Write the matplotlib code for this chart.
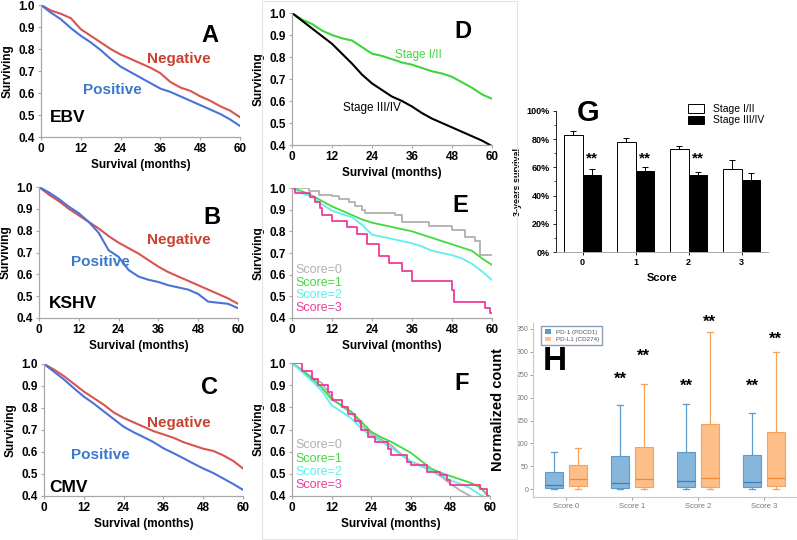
import numpy as np
import matplotlib
matplotlib.use("Agg")
import matplotlib.pyplot as plt
from matplotlib.patches import Patch
from matplotlib.ticker import FuncFormatter, MultipleLocator

plt.rcParams["font.family"] = ["Liberation Sans", "DejaVu Sans"]

W, H = 797, 540

# ---- survival data (every 3 months) ----
MONTHS = np.arange(0, 61, 3)

A_neg = [1.0, 0.975, 0.96, 0.94, 0.89, 0.86, 0.83, 0.80, 0.775, 0.755, 0.735,
         0.715, 0.69, 0.65, 0.625, 0.61, 0.585, 0.565, 0.54, 0.52, 0.49]
A_pos = [1.0, 0.965, 0.935, 0.895, 0.86, 0.83, 0.795, 0.755, 0.72, 0.695, 0.67,
         0.645, 0.62, 0.605, 0.585, 0.565, 0.545, 0.525, 0.505, 0.48, 0.45]

B_neg = [1.0, 0.965, 0.935, 0.90, 0.87, 0.84, 0.81, 0.775, 0.745, 0.72, 0.695,
         0.665, 0.635, 0.61, 0.59, 0.57, 0.55, 0.53, 0.51, 0.49, 0.465]
B_pos = [1.0, 0.975, 0.945, 0.91, 0.88, 0.84, 0.79, 0.71, 0.68, 0.62, 0.59,
         0.575, 0.565, 0.55, 0.54, 0.53, 0.51, 0.475, 0.47, 0.465, 0.445]

C_neg = [1.0, 0.975, 0.945, 0.91, 0.875, 0.845, 0.815, 0.78, 0.755, 0.735, 0.715,
         0.695, 0.68, 0.665, 0.645, 0.63, 0.615, 0.605, 0.585, 0.56, 0.525]
C_pos = [1.0, 0.965, 0.93, 0.89, 0.852, 0.82, 0.785, 0.75, 0.715, 0.69, 0.668,
         0.645, 0.617, 0.595, 0.572, 0.548, 0.525, 0.505, 0.48, 0.455, 0.428]

D_early = [1.0, 0.97, 0.95, 0.92, 0.90, 0.885, 0.875, 0.845, 0.815, 0.805, 0.79,
           0.775, 0.765, 0.75, 0.735, 0.725, 0.71, 0.685, 0.66, 0.63, 0.61]
D_late = [1.0, 0.965, 0.93, 0.895, 0.86, 0.815, 0.77, 0.72, 0.68, 0.65, 0.62,
          0.60, 0.575, 0.545, 0.52, 0.50, 0.48, 0.46, 0.44, 0.42, 0.395]

# E: score-stratified, stage I/II
E_s1 = [1.0, 0.985, 0.965, 0.94, 0.915, 0.895, 0.875, 0.855, 0.84, 0.83, 0.82,
        0.81, 0.80, 0.785, 0.77, 0.755, 0.74, 0.725, 0.71, 0.675, 0.645]
E_s2 = [1.0, 0.975, 0.96, 0.925, 0.895, 0.88, 0.865, 0.83, 0.785, 0.775, 0.765,
        0.755, 0.745, 0.73, 0.71, 0.70, 0.69, 0.675, 0.65, 0.615, 0.575]
E_s0_t = [0, 5, 8, 12, 14, 17, 19, 21, 22, 31, 33, 41, 48, 52, 55, 56.5, 60]
E_s0 = [1.0, 0.985, 0.97, 0.965, 0.95, 0.935, 0.915, 0.90, 0.885, 0.875, 0.845,
        0.825, 0.805, 0.775, 0.755, 0.69, 0.69]
E_s3_t = [0, 1, 5.5, 7, 8.5, 9, 12, 16.5, 19.5, 22.5, 26, 29, 33, 36, 48, 48.5, 58, 59.5, 60]
E_s3 = [1.0, 0.975, 0.96, 0.935, 0.91, 0.875, 0.85, 0.82, 0.79, 0.74, 0.685,
        0.655, 0.615, 0.57, 0.53, 0.475, 0.445, 0.425, 0.425]

# F: score-stratified, stage III/IV
F_s0 = [1.0, 0.97, 0.935, 0.91, 0.845, 0.805, 0.775, 0.72, 0.68, 0.655, 0.63,
        0.59, 0.555, 0.54, 0.515, 0.49, 0.455, 0.425, 0.40, 0.38, 0.36]
F_s1 = [1.0, 0.965, 0.93, 0.89, 0.835, 0.81, 0.78, 0.735, 0.69, 0.665, 0.645,
        0.62, 0.595, 0.56, 0.525, 0.505, 0.49, 0.475, 0.46, 0.44, 0.39]
F_s2 = [1.0, 0.96, 0.92, 0.875, 0.81, 0.78, 0.75, 0.705, 0.67, 0.645, 0.62,
        0.585, 0.555, 0.535, 0.515, 0.495, 0.47, 0.455, 0.435, 0.405, 0.38]
F_s3_t = [0, 3, 6, 8, 11, 12, 15, 17, 19, 21, 23, 25, 29, 30, 35, 36, 41, 45, 47, 48, 56, 57, 59, 60]
F_s3 = [1.0, 0.965, 0.93, 0.90, 0.87, 0.835, 0.80, 0.77, 0.74, 0.70, 0.665, 0.645,
        0.61, 0.585, 0.555, 0.54, 0.51, 0.495, 0.47, 0.45, 0.45, 0.43, 0.40, 0.38]

# G: 3-year survival by score
G_scores = ["0", "1", "2", "3"]
G_early = [83.3, 78.1, 72.7, 58.6]
G_early_err = [2.8, 2.4, 2.8, 6.3]
G_late = [54.8, 57.6, 54.4, 51.3]
G_late_err = [4.0, 2.4, 2.3, 4.5]
G_sig = ["**", "**", "**", ""]

# H: PD-1 / PD-L1 normalized counts (box stats)
H_groups = ["Score 0", "Score 1", "Score 2", "Score 3"]
PD1_stats = [(0, 2, 9, 38, 82), (0, 3, 13, 73, 184), (0, 4, 18, 82, 187), (0, 4, 15, 74, 167)]
PDL1_stats = [(0, 6, 22, 52, 90), (0, 4, 22, 93, 229), (0, 4, 24, 142, 344), (0, 6, 24, 125, 299)]
PD1_sig = [None, 240, 225, 225]
PDL1_sig = [None, 291, 365, 328]

RED_LINE, RED_TXT = "#D9534F", "#C8432F"
BLUE_LINE, BLUE_TXT = "#4A72D8", "#3A78CC"
GREEN = "#3FD43F"
GRAY, S1, S2, S3 = "#B0B0B0", "#3EDB3E", "#5EEEEE", "#EE3D9A"


def rect(x0, y0, x1, y1):
    return [x0 / W, 1 - y1 / H, (x1 - x0) / W, (y1 - y0) / H]


def ftext(x, y, s, **kw):
    fig.text(x / W, 1 - y / H, s, ha="center", va="center", **kw)


def km_axes(r):
    ax = fig.add_axes(r)
    ax.set_xlim(0, 60)
    ax.set_ylim(0.4, 1.0)
    ax.set_xticks([0, 12, 24, 36, 48, 60])
    ax.set_yticks(np.round(np.arange(0.4, 1.01, 0.1), 1))
    ax.yaxis.set_major_formatter(FuncFormatter(lambda v, p: f"{v:.1f}"))
    for s in ["top", "right"]:
        ax.spines[s].set_visible(False)
    for s in ["left", "bottom"]:
        ax.spines[s].set_color("#A8A8A8")
        ax.spines[s].set_linewidth(0.9)
    ax.tick_params(labelsize=8.5, length=2.5, width=0.8, color="#A8A8A8", pad=2)
    for lb in ax.get_xticklabels() + ax.get_yticklabels():
        lb.set_fontweight("bold")
    ax.set_xlabel("Survival (months)", fontsize=8.5, fontweight="bold", labelpad=3)
    ax.set_ylabel("Surviving", fontsize=8.5, fontweight="bold", labelpad=3)
    return ax


fig = plt.figure(figsize=(W / 100, H / 100), dpi=100)

# faint frame around the middle column
fig.patches.append(plt.Rectangle((262 / W, 0.002), 255 / W, 0.996, transform=fig.transFigure,
                                 fill=False, edgecolor="#E4E4E4", lw=0.8))

# ---- A, B, C ----
panels = [
    (rect(41, 5, 240, 137), A_neg, A_pos, "A", (210, 35), (179, 59), (112, 90), "EBV", (68, 118)),
    (rect(39, 187, 238, 318), B_neg, B_pos, "B", (212, 218), (179, 240), (100, 262), "KSHV", (73, 303)),
    (rect(44, 364, 243, 496), C_neg, C_pos, "C", (210, 387), (179, 423), (100, 455), "CMV", (68, 487)),
]
for r, neg, pos, letter, lp, np_, pp, virus, vp in panels:
    ax = km_axes(r)
    ax.plot(MONTHS, neg, color=RED_LINE, lw=1.5)
    ax.plot(MONTHS, pos, color=BLUE_LINE, lw=1.5)
    ftext(*lp, letter, fontsize=17, fontweight="bold")
    ftext(*np_, "Negative", fontsize=11, fontweight="bold", color=RED_TXT)
    ftext(*pp, "Positive", fontsize=11, fontweight="bold", color=BLUE_TXT)
    ftext(*vp, virus, fontsize=12.5, fontweight="bold")

# ---- D ----
ax = km_axes(rect(292, 13, 492, 145))
ax.plot(MONTHS, D_early, color=GREEN, lw=1.5)
ax.plot(MONTHS, D_late, color="black", lw=1.5)
ftext(463, 32, "D", fontsize=17, fontweight="bold")
ftext(418, 55, "Stage I/II", fontsize=8.5, color="#3ED83E")
ftext(372, 108, "Stage III/IV", fontsize=8.5, color="black")

# ---- E ----
ax = km_axes(rect(292, 188, 492, 318))
ax.plot(E_s0_t, E_s0, color=GRAY, lw=1.3, drawstyle="steps-post")
ax.plot(MONTHS, E_s1, color=S1, lw=1.3)
ax.plot(MONTHS, E_s2, color=S2, lw=1.3)
ax.plot(E_s3_t, E_s3, color=S3, lw=1.3, drawstyle="steps-post")
ftext(460, 205, "E", fontsize=17, fontweight="bold")
for i, (lab, c) in enumerate(zip(["Score=0", "Score=1", "Score=2", "Score=3"], [GRAY, S1, S2, S3])):
    fig.text(295 / W, 1 - (270 + 12.7 * i) / H, lab, color=c, fontsize=9, va="center")

# ---- F ----
ax = km_axes(rect(292, 363, 490, 496))
ax.plot(MONTHS, F_s0, color=GRAY, lw=1.3)
ax.plot(MONTHS, F_s1, color=S1, lw=1.3)
ax.plot(MONTHS, F_s2, color=S2, lw=1.3)
ax.plot(F_s3_t, F_s3, color=S3, lw=1.3, drawstyle="steps-post")
ftext(462, 383, "F", fontsize=17, fontweight="bold")
for i, (lab, c) in enumerate(zip(["Score=0", "Score=1", "Score=2", "Score=3"], [GRAY, S1, S2, S3])):
    fig.text(295 / W, 1 - (445 + 13.5 * i) / H, lab, color=c, fontsize=9, va="center")

# ---- G ----
ax = fig.add_axes(rect(556, 111, 768, 252))
x = np.arange(len(G_scores))
bw = 0.34
ax.bar(x - bw / 2, G_early, bw, yerr=[np.zeros(4), G_early_err], color="white", edgecolor="black",
       lw=0.7, capsize=2, error_kw=dict(elinewidth=0.7, capthick=0.7), label="Stage I/II")
ax.bar(x + bw / 2, G_late, bw, yerr=[np.zeros(4), G_late_err], color="black", edgecolor="black",
       lw=0.7, capsize=2, error_kw=dict(elinewidth=0.7, capthick=0.7), label="Stage III/IV")
for i, s in enumerate(G_sig):
    if s:
        ax.text(i + bw / 2, 66, s, ha="center", va="center", fontsize=11, fontweight="bold")
ax.set_xlim(-0.5, 3.5)
ax.set_ylim(0, 100)
ax.set_xticks(x, G_scores)
ax.yaxis.set_major_locator(MultipleLocator(20))
ax.yaxis.set_minor_locator(MultipleLocator(10))
ax.yaxis.set_major_formatter(FuncFormatter(lambda v, p: f"{v:.0f}%"))
for s in ["top", "right"]:
    ax.spines[s].set_visible(False)
ax.spines["left"].set_linewidth(0.6)
ax.spines["bottom"].set_linewidth(0.6)
ax.spines["bottom"].set_color("#999999")
ax.tick_params(labelsize=6.5, length=2.5, width=0.6, pad=2)
ax.tick_params(which="minor", length=1.5, width=0.5)
for lb in ax.get_xticklabels() + ax.get_yticklabels():
    lb.set_fontweight("bold")
ax.set_xlabel("Score", fontsize=8, fontweight="bold", labelpad=4)
ax.set_ylabel("3-years survival", fontsize=6.5, fontweight="bold", labelpad=3)
ax.legend(loc="upper right", bbox_to_anchor=(1.0, 1.08), frameon=False, fontsize=7.5,
          handlelength=1.6, handleheight=0.9, labelspacing=0.15, borderaxespad=0)
ftext(588, 113, "G", fontsize=21, fontweight="bold")

# ---- H ----
ax = fig.add_axes(rect(533, 323, 797, 497))
gx = np.arange(len(H_groups))
off, wid = 0.18, 0.27


def to_stats(rows):
    return [dict(whislo=a, q1=b, med=c, q3=d, whishi=e, fliers=[]) for a, b, c, d, e in rows]


for stats, pos, face, edge, med in [
    (PD1_stats, gx - off, "#86B6DB", "#5B9CCC", "#3F7FB8"),
    (PDL1_stats, gx + off, "#FDBE88", "#F5A35A", "#EE8A35"),
]:
    ax.bxp(to_stats(stats), positions=pos, widths=wid, capwidths=0.1, patch_artist=True,
           showfliers=False,
           boxprops=dict(facecolor=face, edgecolor=edge, lw=0.8),
           whiskerprops=dict(color=edge, lw=0.9),
           capprops=dict(color=edge, lw=0.9),
           medianprops=dict(color=med, lw=0.9))
for i in range(4):
    if PD1_sig[i]:
        ax.text(gx[i] - off, PD1_sig[i], "**", ha="center", va="center", fontsize=12, fontweight="bold")
    if PDL1_sig[i]:
        ax.text(gx[i] + off, PDL1_sig[i], "**", ha="center", va="center", fontsize=12, fontweight="bold")
ax.set_xlim(-0.5, 3.5)
ax.set_ylim(-17, 363)
ax.set_xticks(gx, H_groups)
ax.set_yticks(np.arange(0, 351, 50))
for s in ["top", "right"]:
    ax.spines[s].set_visible(False)
for s in ["left", "bottom"]:
    ax.spines[s].set_color("#C8C8C8")
    ax.spines[s].set_linewidth(0.8)
ax.tick_params(labelsize=5, colors="#777777", length=2, width=0.5, pad=1.5)
ax.tick_params(axis="x", labelsize=5.5, pad=2)
ax.set_ylabel("Normalized count", fontsize=10.5, fontweight="bold", labelpad=8)
ax.legend(handles=[Patch(facecolor="#5B9CCC", label="PD-1 (PDCD1)"),
                   Patch(facecolor="#FDBE88", label="PD-L1 (CD274)")],
          loc="upper left", bbox_to_anchor=(0.02, 1.0), fontsize=4.5, handlelength=1.0,
          handleheight=0.8, labelspacing=0.3, borderpad=0.5, fancybox=False,
          edgecolor="#8C9CC0", framealpha=1, labelcolor="#555555")
ftext(555, 361, "H", fontsize=24, fontweight="bold")

fig.savefig("out.png", dpi=100)
